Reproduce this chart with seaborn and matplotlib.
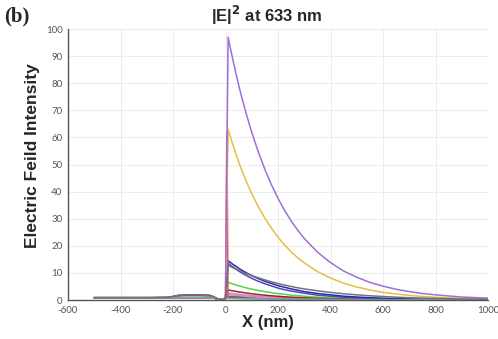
import numpy as np
import pandas as pd
import matplotlib
matplotlib.use("Agg")
import matplotlib.pyplot as plt
import seaborn as sns

# ---- data ----
x_nm = [-500, -300, -220, -200, -180, -150, -100, -60, -45, -30, -15, -5, 0, 5, 10,
        20, 30, 40, 50, 60, 80, 100, 125, 150, 175, 200, 225, 250, 275, 300,
        350, 400, 450, 500, 550, 600, 650, 700, 750, 800, 900, 1000]

purple = [0.8, 0.8, 0.8, 0.8, 0.8, 0.8, 0.8, 0.8, 0.7, 0.4, 0.2, 0.3, 1.0, 50, 97,
          92.3, 87.8, 83.5, 79.4, 75.5, 68.4, 61.9, 54.6, 48.2, 42.5, 37.5, 33.1, 29.2, 25.8, 22.7,
          17.7, 13.8, 10.7, 8.4, 6.5, 5.1, 3.95, 3.1, 2.4, 1.9, 1.1, 0.7]
yellow = [0.8, 0.8, 0.8, 0.8, 0.8, 0.8, 0.8, 0.8, 0.7, 0.5, 0.2, 0.6, 2.0, 35, 63,
          59.8, 56.7, 53.8, 51.0, 48.4, 43.6, 39.2, 34.4, 30.2, 26.5, 23.2, 20.3, 17.8, 15.6, 13.7,
          10.5, 8.1, 6.2, 4.8, 3.7, 2.8, 2.2, 1.7, 1.3, 1.0, 0.6, 0.35]
blue = [0.8, 0.8, 0.8, 0.8, 0.8, 0.8, 0.8, 0.8, 0.7, 0.4, 0.2, 0.3, 0.8, 8, 14.5,
        13.8, 13.05, 12.4, 11.75, 11.1, 10.0, 9.0, 7.9, 6.9, 6.1, 5.3, 4.7, 4.1, 3.6, 3.1,
        2.4, 1.9, 1.4, 1.1, 0.85, 0.65, 0.5, 0.4, 0.3, 0.25, 0.15, 0.1]
blue2 = [0.8, 0.8, 0.8, 0.8, 0.8, 0.8, 0.8, 0.8, 0.7, 0.4, 0.2, 0.3, 0.8, 7, 13.6,
         12.8, 12.1, 11.4, 10.7, 10.1, 9.0, 8.0, 6.9, 6.0, 5.2, 4.4, 3.8, 3.3, 2.9, 2.5,
         1.8, 1.4, 1.0, 0.75, 0.55, 0.4, 0.3, 0.2, 0.15, 0.12, 0.07, 0.04]
slate = [0.8, 0.8, 0.9, 1.3, 1.7, 1.8, 1.8, 1.7, 1.2, 0.4, 0.2, 0.4, 0.9, 7, 12.8,
         12.3, 11.8, 11.4, 10.9, 10.5, 9.7, 9.0, 8.2, 7.4, 6.7, 6.1, 5.5, 5.0, 4.5, 4.1,
         3.4, 2.8, 2.3, 1.9, 1.55, 1.3, 1.04, 0.85, 0.7, 0.6, 0.4, 0.26]
green = [0.8, 0.8, 0.8, 0.8, 0.8, 0.8, 0.8, 0.8, 0.7, 0.4, 0.2, 0.3, 0.8, 4, 6.5,
         6.2, 5.85, 5.55, 5.25, 4.97, 4.45, 4.0, 3.5, 3.07, 2.7, 2.35, 2.1, 1.8, 1.6, 1.38,
         1.06, 0.81, 0.63, 0.48, 0.37, 0.28, 0.22, 0.17, 0.13, 0.1, 0.06, 0.04]
maroon = [0.8, 0.8, 0.9, 1.3, 1.7, 1.8, 1.8, 1.7, 1.2, 0.4, 0.2, 0.4, 0.7, 2.5, 3.7,
          3.51, 3.33, 3.16, 3.0, 2.85, 2.56, 2.31, 2.02, 1.77, 1.55, 1.36, 1.19, 1.05, 0.92, 0.8,
          0.62, 0.47, 0.37, 0.28, 0.22, 0.17, 0.13, 0.1, 0.08, 0.06, 0.03, 0.02]
red = [0.8, 0.8, 0.8, 0.8, 0.8, 0.8, 0.8, 0.8, 0.7, 0.4, 0.2, 0.3, 0.6, 62, 0.6,
       0.58, 0.56, 0.55, 0.53, 0.52, 0.49, 0.46, 0.43, 0.4, 0.37, 0.35, 0.33, 0.31, 0.29, 0.27,
       0.24, 0.21, 0.18, 0.16, 0.14, 0.12, 0.1, 0.09, 0.08, 0.07, 0.05, 0.04]
pink = [0.8, 0.8, 0.8, 0.8, 0.8, 0.8, 0.8, 0.8, 0.7, 0.4, 0.2, 0.3, 0.6, 1.8, 2.6,
        2.47, 2.34, 2.22, 2.11, 2.0, 1.8, 1.62, 1.42, 1.25, 1.09, 0.96, 0.84, 0.74, 0.64, 0.56,
        0.43, 0.33, 0.26, 0.2, 0.15, 0.12, 0.09, 0.07, 0.05, 0.04, 0.02, 0.01]
lilac = [0.8, 0.8, 0.8, 0.8, 0.8, 0.8, 0.8, 0.8, 0.7, 0.4, 0.2, 0.3, 0.6, 1.5, 2.0,
         1.9, 1.8, 1.71, 1.62, 1.54, 1.38, 1.25, 1.09, 0.96, 0.84, 0.74, 0.65, 0.57, 0.5, 0.43,
         0.33, 0.26, 0.2, 0.15, 0.12, 0.09, 0.07, 0.05, 0.04, 0.03, 0.02, 0.01]
olive = [0.9, 0.9, 1.0, 1.2, 1.6, 1.7, 1.7, 1.6, 1.1, 0.4, 0.2, 0.3, 0.6, 1.2, 1.4,
         1.35, 1.31, 1.27, 1.23, 1.18, 1.11, 1.04, 0.95, 0.88, 0.81, 0.74, 0.68, 0.63, 0.58, 0.53,
         0.45, 0.38, 0.32, 0.27, 0.23, 0.2, 0.17, 0.14, 0.12, 0.1, 0.07, 0.05]
black = [0.8, 0.8, 0.9, 1.2, 1.6, 1.7, 1.7, 1.6, 1.1, 0.4, 0.2, 0.3, 0.5, 0.9, 1.0,
         0.97, 0.94, 0.91, 0.88, 0.85, 0.79, 0.74, 0.68, 0.63, 0.58, 0.53, 0.49, 0.45, 0.41, 0.38,
         0.32, 0.27, 0.23, 0.2, 0.17, 0.14, 0.12, 0.1, 0.09, 0.07, 0.05, 0.04]
teal = [1.0, 1.0, 1.0, 1.0, 1.0, 1.0, 1.0, 1.0, 0.8, 0.4, 0.2, 0.3, 0.5, 0.6, 0.7,
        0.68, 0.66, 0.63, 0.61, 0.59, 0.55, 0.52, 0.48, 0.44, 0.4, 0.37, 0.34, 0.31, 0.29, 0.27,
        0.23, 0.19, 0.16, 0.14, 0.12, 0.1, 0.08, 0.07, 0.06, 0.05, 0.04, 0.03]

series = {"black": black, "olive": olive, "lilac": lilac, "pink": pink, "green": green,
          "maroon": maroon, "blue2": blue2, "blue": blue, "red": red, "yellow": yellow,
          "purple": purple, "teal": teal, "slate": slate}
colors = {"purple": "#9d6fdb", "yellow": "#e6bf45", "blue": "#2a2aa6", "blue2": "#4a4ac4",
          "slate": "#76707e", "green": "#4cd84c", "red": "#e86060", "maroon": "#9a2525",
          "pink": "#e27ac4", "lilac": "#b89ee0", "olive": "#6e6e22", "black": "#3a3a3a",
          "teal": "#6aa8a8"}

x_ticks = [-600, -400, -200, 0, 200, 400, 600, 800, 1000]
y_ticks = [0, 10, 20, 30, 40, 50, 60, 70, 80, 90, 100]

rows = []
for name, vals in series.items():
    for xv, yv in zip(x_nm, vals):
        rows.append({"x": xv, "y": yv, "s": name})
df = pd.DataFrame(rows)

sns.set_style("white")
plt.rcParams['font.family'] = ['Liberation Sans', 'DejaVu Sans']

fig = plt.figure(figsize=(4.98, 3.39), dpi=100)
ax = fig.add_axes([68/498, 1-300/339, (488-68)/498, (300-29)/339])

sns.lineplot(data=df, x="x", y="y", hue="s", palette=colors, hue_order=list(series.keys()),
             estimator=None, sort=False, legend=False, linewidth=1.1, ax=ax)

ax.set_xlim(-600, 1000)
ax.set_ylim(0, 100)
ax.set_xticks(x_ticks)
ax.set_yticks(y_ticks)
ax.set_xticklabels([str(t) for t in x_ticks], fontfamily='Lato', fontsize=7, color='#555555')
ax.set_yticklabels([str(t) for t in y_ticks], fontfamily='Lato', fontsize=7, color='#555555')
ax.tick_params(axis='both', direction='out', length=3, width=0.8, color='#555555', pad=1)
ax.grid(True, color='#ececec', linewidth=0.7)
ax.set_axisbelow(True)
for s in ['top', 'right']:
    ax.spines[s].set_visible(False)
for s in ['left', 'bottom']:
    ax.spines[s].set_color('#555555')
    ax.spines[s].set_linewidth(1.0)
ax.set_xlabel("")
ax.set_ylabel("")

fig.text(268/498, 1-322/339, "X (nm)", ha='center', va='center', fontsize=12, fontweight='bold')
fig.text(33/498, 1-156/339, "Electric Feild Intensity", ha='center', va='center',
         rotation=90, fontsize=12.5, fontweight='bold')
fig.text(267/498, 1-15/339, r"|E|$^{\mathbf{2}}$ at 633 nm", ha='center', va='center',
         fontsize=12, fontweight='bold')
fig.text(4/498, 1-16/339, "(b)", ha='left', va='center', fontsize=15, fontweight='bold',
         fontfamily='Liberation Serif')

fig.savefig("out.png", dpi=100)
